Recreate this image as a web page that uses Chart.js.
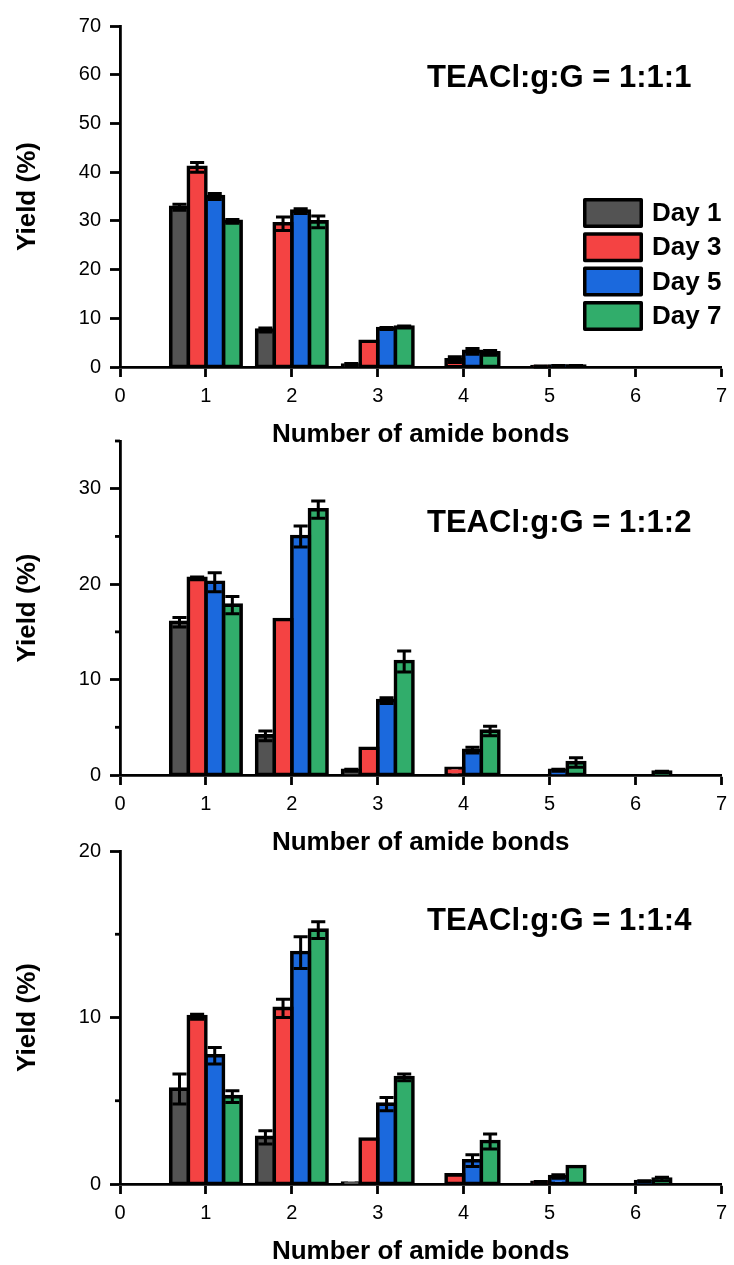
<!DOCTYPE html>
<html>
<head>
<meta charset="utf-8">
<title>Yield vs number of amide bonds</title>
<script src="https://cdn.jsdelivr.net/npm/chart.js@4.4.1/dist/chart.umd.min.js"></script>
<style>
  body { margin: 0; background: #fff; }
  #wrap { position: relative; width: 734px; height: 1265px; overflow: hidden; }
  #wrap canvas { position: absolute; left: 0; }
</style>
</head>
<body>
<div id="wrap">
  <canvas id="c111" width="734" height="455" style="top:0px"></canvas>
  <canvas id="c112" width="734" height="443" style="top:420px"></canvas>
  <canvas id="c114" width="734" height="435" style="top:830px"></canvas>
</div>
<script>
const bonds = [1, 2, 3, 4, 5, 6];
const days = ['Day 1', 'Day 3', 'Day 5', 'Day 7'];
const dayColors = ['#535353', '#f44343', '#1b69dd', '#31ad6b'];

// rows: Day 1, Day 3, Day 5, Day 7; columns: 1..6 amide bonds
const yield111 = [
  [32.8, 7.6, 0.4, null, null, null],
  [41.0, 29.4, 5.3, 1.5, 0.1, null],
  [35.0, 32.0, 7.9, 3.2, 0.2, null],
  [29.9, 29.8, 8.2, 2.9, 0.2, null]
];
const err111 = [
  [0.6, 0.4, 0.3, 0, 0, 0],
  [1.0, 1.4, 0, 0.6, 0.1, 0],
  [0.6, 0.5, 0.2, 0.6, 0.1, 0],
  [0.4, 1.2, 0.2, 0.5, 0.1, 0]
];

const yield112 = [
  [16.0, 4.1, 0.5, null, null, null],
  [20.6, 16.3, 2.8, 0.7, null, null],
  [20.2, 25.0, 7.8, 2.6, 0.5, null],
  [17.8, 27.8, 11.9, 4.6, 1.3, 0.3]
];
const err112 = [
  [0.5, 0.5, 0.1, 0, 0, 0],
  [0.15, 0, 0, 0, 0, 0],
  [1.0, 1.1, 0.3, 0.3, 0.1, 0],
  [0.9, 0.9, 1.1, 0.5, 0.5, 0.1]
];

const yield114 = [
  [5.7, 2.8, 0.05, null, null, null],
  [10.05, 10.55, 2.7, 0.55, 0.1, null],
  [7.7, 13.9, 4.8, 1.4, 0.45, 0.15],
  [5.25, 15.25, 6.4, 2.55, 1.05, 0.3]
];
const err114 = [
  [0.9, 0.4, 0, 0, 0, 0],
  [0.15, 0.55, 0, 0, 0.05, 0],
  [0.5, 0.95, 0.4, 0.35, 0.1, 0.05],
  [0.35, 0.5, 0.2, 0.45, 0, 0.1]
];

const FONT = '"Liberation Sans", Arial, Helvetica, sans-serif';

// symmetric error bars on top of each bar
const errorBars = {
  id: 'errorBars',
  afterDatasetsDraw(chart, args, opts) {
    const ctx = chart.ctx;
    const yScale = chart.scales.y;
    ctx.save();
    ctx.strokeStyle = '#000';
    ctx.lineWidth = 3;
    chart.data.datasets.forEach((ds, i) => {
      const meta = chart.getDatasetMeta(i);
      meta.data.forEach((bar, j) => {
        const v = ds.data[j].y;
        const e = opts.errors[i][j];
        if (v == null || !e) return;
        const x = bar.x;
        const half = bar.width * 0.4;
        const yT = yScale.getPixelForValue(v + e);
        const yB = yScale.getPixelForValue(Math.max(v - e, 0));
        ctx.beginPath();
        ctx.moveTo(x, yT); ctx.lineTo(x, yB);
        ctx.moveTo(x - half, yT); ctx.lineTo(x + half, yT);
        ctx.moveTo(x - half, yB); ctx.lineTo(x + half, yB);
        ctx.stroke();
      });
    });
    ctx.restore();
  }
};

// short ticks at the unlabelled y steps
const minorTicks = {
  id: 'minorTicks',
  afterDraw(chart) {
    const s = chart.scales.y;
    const ctx = chart.ctx;
    ctx.save();
    ctx.strokeStyle = '#000';
    ctx.lineWidth = 2.8;
    s.ticks.forEach(t => {
      if (t.value % 10 === 0) return;
      const y = s.getPixelForValue(t.value);
      ctx.beginPath();
      ctx.moveTo(s.right, y);
      ctx.lineTo(s.right - 5, y);
      ctx.stroke();
    });
    ctx.restore();
  }
};

// ratio label inside the plot
const ratioLabel = {
  id: 'ratioLabel',
  afterDraw(chart, args, opts) {
    const ctx = chart.ctx;
    ctx.save();
    ctx.font = 'bold 31px ' + FONT;
    ctx.fillStyle = '#000';
    ctx.textBaseline = 'alphabetic';
    ctx.fillText(opts.text, opts.x, opts.y);
    ctx.restore();
  }
};

// boxed legend for the four days
const dayLegend = {
  id: 'dayLegend',
  afterDraw(chart, args, opts) {
    if (!opts.show) return;
    const ctx = chart.ctx;
    ctx.save();
    chart.data.datasets.forEach((ds, i) => {
      const top = opts.y + i * 34.3;
      ctx.fillStyle = ds.backgroundColor;
      ctx.strokeStyle = '#000';
      ctx.lineWidth = 3.5;
      ctx.lineJoin = 'round';
      ctx.beginPath();
      ctx.rect(opts.x + 1.75, top + 1.75, 56.5, 26.5);
      ctx.fill();
      ctx.stroke();
      ctx.fillStyle = '#000';
      ctx.font = 'bold 26px ' + FONT;
      ctx.textBaseline = 'middle';
      ctx.fillText(ds.label, opts.x + 69, top + 16);
    });
    ctx.restore();
  }
};

function makePanel(id, values, errors, yMax, label, geo) {
  const datasets = days.map((d, i) => ({
    label: d,
    data: bonds.map((b, j) => ({ x: b, y: values[i][j] })),
    backgroundColor: dayColors[i],
    borderColor: '#000',
    borderWidth: 3.6,
    borderSkipped: false,
    inflateAmount: 1.8,
    categoryPercentage: 0.82,
    barPercentage: 1
  }));

  return new Chart(document.getElementById(id), {
    type: 'bar',
    data: { datasets },
    options: {
      responsive: false,
      animation: false,
      events: [],
      layout: { padding: { top: geo.top, right: 8, left: 0, bottom: 0 } },
      plugins: {
        legend: { display: false },
        tooltip: { enabled: false },
        errorBars: { errors },
        ratioLabel: { text: label, x: 427, y: geo.labelY },
        dayLegend: { show: !!geo.legend, x: 583, y: 198 }
      },
      scales: {
        x: {
          type: 'linear',
          min: 0,
          max: 7,
          offset: false,
          ticks: { stepSize: 1, autoSkip: false, maxRotation: 0, padding: 7, color: '#000', font: { family: FONT, size: 20 } },
          grid: { drawOnChartArea: false, offset: false, tickLength: 10, tickWidth: 2.8, tickColor: '#000' },
          border: { color: '#000', width: 2.8 },
          title: {
            display: true,
            text: 'Number of amide bonds',
            color: '#000',
            font: { family: FONT, size: 26, weight: 'bold', lineHeight: 1 },
            padding: { top: 0, bottom: geo.titlePad }
          },
          afterFit: s => { s.height = geo.xHeight; }
        },
        y: {
          min: 0,
          max: yMax,
          ticks: {
            stepSize: 5,
            padding: 9,
            color: '#000',
            font: { family: FONT, size: 20 },
            callback: v => (v % 10 === 0 ? v : '')
          },
          grid: {
            drawOnChartArea: false,
            tickLength: 10,
            tickWidth: 2.8,
            tickColor: c => (c.tick && c.tick.value % 10 === 0 ? '#000' : 'rgba(0,0,0,0)')
          },
          border: { color: '#000', width: 2.8 },
          title: {
            display: true,
            text: 'Yield (%)',
            color: '#000',
            font: { family: FONT, size: 26, weight: 'bold', lineHeight: 1 },
            padding: { top: 15, bottom: 0 }
          },
          afterFit: s => { s.width = 120; }
        }
      }
    },
    plugins: [errorBars, minorTicks, ratioLabel, dayLegend]
  });
}

makePanel('c111', yield111, err111, 70, 'TEACl:g:G = 1:1:1',
  { top: 26, xHeight: 88, titlePad: 7.5, labelY: 87, legend: true });
makePanel('c112', yield112, err112, 35, 'TEACl:g:G = 1:1:2',
  { top: 14, xHeight: 88, titlePad: 7.5, labelY: 112 });
makePanel('c114', yield114, err114, 20, 'TEACl:g:G = 1:1:4',
  { top: 13, xHeight: 81, titlePad: 0.5, labelY: 100 });
</script>
</body>
</html>
